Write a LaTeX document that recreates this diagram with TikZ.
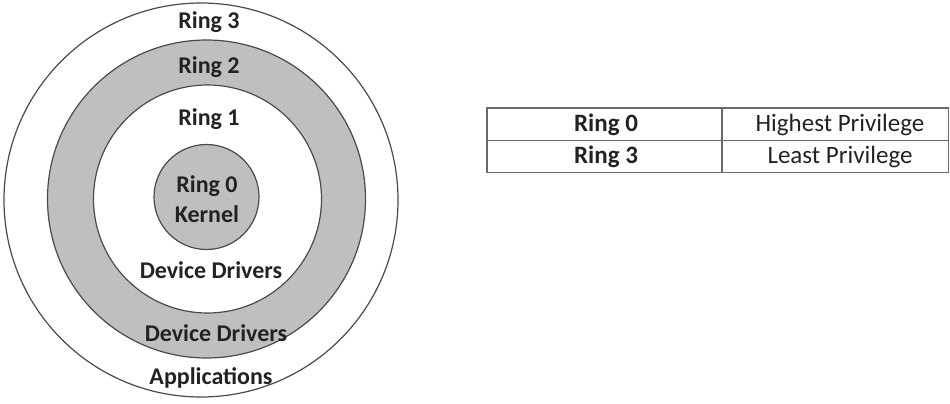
\documentclass[tikz,border=0pt]{standalone}
\usepackage{fontspec}
\setmainfont{Carlito}
\definecolor{ringfill}{HTML}{BFBFBF}
\definecolor{ringline}{HTML}{4A4A4A}
\definecolor{txt}{HTML}{222222}
\definecolor{tabline}{HTML}{6A6A6A}
\begin{document}
\begin{tikzpicture}[x=1pt,y=-1pt,
  ringlabel/.style={font=\fontsize{24}{26}\selectfont\bfseries, text=txt, inner sep=0pt, align=center},
  cell/.style={font=\fontsize{25}{27}\selectfont, text=txt, inner sep=0pt},
  cellbold/.style={cell, font=\fontsize{25}{27}\selectfont\bfseries},
  ringedge/.style={draw=ringline, line width=1.2pt}]
\useasboundingbox (0,0) rectangle (950,404);
% rings
\draw[ringedge, fill=white] (201,200) circle (197);
\draw[ringedge, fill=ringfill] (206.5,199) circle (159);
\draw[ringedge, fill=white] (207.5,199) circle (114);
\draw[ringedge, fill=ringfill] (206.5,197) circle (52.5);
% labels
\node[ringlabel] (r3) at (209,22) {Ring 3};
\node[ringlabel] (r2) at (209,67) {Ring 2};
\node[ringlabel] (r1) at (209,119) {Ring 1};
\node[ringlabel] (r0) at (207,186) {Ring 0};
\node[ringlabel] (k) at (207,214) {Kernel};
\node[ringlabel] (dd1) at (211,270) {Device Drivers};
\node[ringlabel] (dd2) at (216,333) {Device Drivers};
\node[ringlabel] (app) at (211,378) {Applications};
% table
\draw[tabline, line width=1.3pt] (487,108) rectangle (948.5,172.5);
\draw[tabline, line width=1.3pt] (487,140.5) -- (948.5,140.5);
\draw[tabline, line width=1.3pt] (722,108) -- (722,172.5);
\node[cellbold] (t1) at (606,124.5) {Ring 0};
\node[cell] (t2) at (840,124.5) {Highest Privilege};
\node[cellbold] (t3) at (606,156.5) {Ring 3};
\node[cell] (t4) at (840,156.5) {Least Privilege};
\end{tikzpicture}
\end{document}
